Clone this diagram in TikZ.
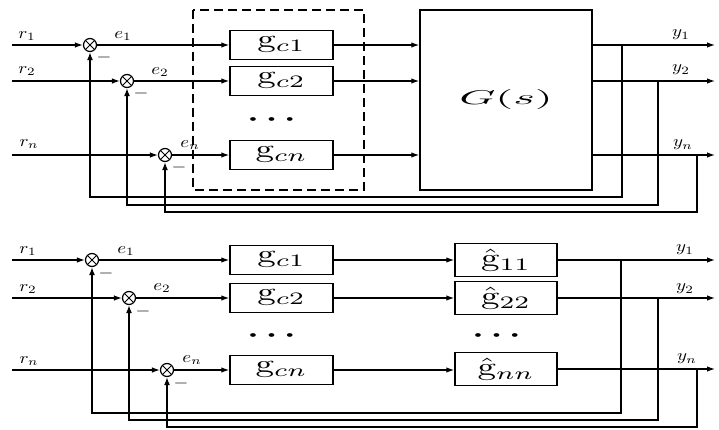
\documentclass[tikz,border=0pt]{standalone}
\usepackage{graphicx}
\usepackage{amsmath}
\usetikzlibrary{arrows.meta}
\newcommand\gbig[1]{\scalebox{3.7}[2.5]{$\mathrm{g}_{#1}$}}
\newcommand\ghat[1]{\scalebox{3.7}[2.5]{$\hat{\mathrm{g}}_{#1}$}}
\newcommand\lab[1]{\scalebox{1.9}[1.6]{$#1$}}
\newcommand\threedots{\scalebox{3.6}[2.4]{$\boldsymbol{\cdots}$}}
\begin{document}
\begin{tikzpicture}[x=1pt,y=-1pt,
 sig/.style={line width=1.2pt,-{Latex[length=8pt,width=5.5pt]}},
 fbarr/.style={line width=2.1pt,-{Latex[length=8pt,width=6pt]}},
 blk/.style={draw,line width=1.5pt,minimum width=103pt,minimum height=29pt,inner sep=0pt},
 hblk/.style={draw,line width=1.5pt,minimum width=102pt,minimum height=33pt,inner sep=0pt},
 sumj/.style={circle,draw,line width=1.2pt,minimum size=13pt,inner sep=0pt,
   path picture={\draw[line width=0.8pt] (path picture bounding box.north west)--(path picture bounding box.south east)
   (path picture bounding box.north east)--(path picture bounding box.south west);}},
 lbl/.style={inner sep=0pt},
 minus/.style={inner sep=0pt},
 dotsn/.style={inner sep=0pt}]
\useasboundingbox (0,0) rectangle (719,430);
% ================= TOP =================
\coordinate (ra1) at (12,45);
\coordinate (ra2) at (12,81);
\coordinate (ra3) at (12,155);
\node[sumj] (sa1) at (90,45) {};
\node[sumj] (sa2) at (127,81) {};
\node[sumj] (sa3) at (165,155) {};
\node[blk] (ga1) at (281.5,45) {\gbig{c1}};
\node[blk] (ga2) at (281.5,81) {\gbig{c2}};
\node[blk] (ga3) at (281.5,155) {\gbig{cn}};
\node[dotsn] (da) at (275,120) {\threedots};
\draw[line width=2pt,dash pattern=on 9pt off 5pt] (193,10) rectangle (364,190);
\node[draw,line width=1.5pt,minimum width=172pt,minimum height=180pt,inner sep=0pt] (G) at (506,100)
  {\scalebox{4.6}[2.0]{$G(s)$}};
\coordinate (ya1) at (715,45);
\coordinate (ya2) at (715,81);
\coordinate (ya3) at (715,155);
\coordinate (ta1) at (622,45);
\coordinate (ta2) at (658,81);
\coordinate (ta3) at (697,155);
\draw[sig] (ra1) -- (sa1);
\draw[sig] (ra2) -- (sa2);
\draw[sig] (ra3) -- (sa3);
\draw[sig] (sa1) -- (ga1);
\draw[sig] (sa2) -- (ga2);
\draw[sig] (sa3) -- (ga3);
\draw[sig] (ga1) -- (ga1 -| G.west);
\draw[sig] (ga2) -- (ga2 -| G.west);
\draw[sig] (ga3) -- (ga3 -| G.west);
\draw[sig] (ga1 -| G.east) -- (ya1);
\draw[sig] (ga2 -| G.east) -- (ya2);
\draw[sig] (ga3 -| G.east) -- (ya3);
\draw[fbarr] (ta1) -- (622,197) -| (sa1.south);
\draw[fbarr] (ta2) -- (658,205) -| (sa2.south);
\draw[fbarr] (ta3) -- (697,212) -| (sa3.south);
\node[lbl] (lra1) at (27,36) {\lab{r_1}};
\node[lbl] (lra2) at (27,71) {\lab{r_2}};
\node[lbl] (lra3) at (29,144) {\lab{r_n}};
\node[lbl] (lea1) at (123,36) {\lab{e_1}};
\node[lbl] (lea2) at (160,72) {\lab{e_2}};
\node[lbl] (lea3) at (190,145) {\lab{e_n}};
\node[lbl] (lya1) at (681,35) {\lab{y_1}};
\node[lbl] (lya2) at (681,70) {\lab{y_2}};
\node[lbl] (lya3) at (683,145) {\lab{y_n}};
\node[minus] (ma1) at (104,58) {\lab{-}};
\node[minus] (ma2) at (141,94) {\lab{-}};
\node[minus] (ma3) at (179,168) {\lab{-}};
% ================= BOTTOM =================
\coordinate (rb1) at (12,260);
\coordinate (rb2) at (12,298);
\coordinate (rb3) at (12,370);
\node[sumj] (sb1) at (92,260) {};
\node[sumj] (sb2) at (129,298) {};
\node[sumj] (sb3) at (167,370) {};
\node[blk] (gb1) at (281.5,260) {\gbig{c1}};
\node[blk] (gb2) at (281.5,298) {\gbig{c2}};
\node[blk] (gb3) at (281.5,370) {\gbig{cn}};
\node[dotsn] (db) at (275,336) {\threedots};
\node[hblk] (hb1) at (506,260) {\ghat{11}};
\node[hblk] (hb2) at (506,298) {\ghat{22}};
\node[hblk] (hb3) at (506,369) {\ghat{nn}};
\node[dotsn] (dh) at (500,336) {\threedots};
\coordinate (yb1) at (715,260);
\coordinate (yb2) at (715,298);
\coordinate (yb3) at (715,369);
\coordinate (tb1) at (621,260);
\coordinate (tb2) at (658,298);
\coordinate (tb3) at (697,369);
\draw[sig] (rb1) -- (sb1);
\draw[sig] (rb2) -- (sb2);
\draw[sig] (rb3) -- (sb3);
\draw[sig] (sb1) -- (gb1);
\draw[sig] (sb2) -- (gb2);
\draw[sig] (sb3) -- (gb3);
\draw[sig] (gb1) -- (gb1 -| hb1.west);
\draw[sig] (gb2) -- (gb2 -| hb2.west);
\draw[sig] (gb3) -- (gb3 -| hb3.west);
\draw[sig] (hb1.east) -- (yb1);
\draw[sig] (hb2.east) -- (yb2);
\draw[sig] (hb3.east) -- (yb3);
\draw[fbarr] (tb1) -- (621,413) -| (sb1.south);
\draw[fbarr] (tb2) -- (658,420) -| (sb2.south);
\draw[fbarr] (tb3) -- (697,427) -| (sb3.south);
\node[lbl] (lrb1) at (28,251) {\lab{r_1}};
\node[lbl] (lrb2) at (28,289) {\lab{r_2}};
\node[lbl] (lrb3) at (29,361) {\lab{r_n}};
\node[lbl] (leb1) at (126,251) {\lab{e_1}};
\node[lbl] (leb2) at (162,288) {\lab{e_2}};
\node[lbl] (leb3) at (192,360) {\lab{e_n}};
\node[lbl] (lyb1) at (685,250) {\lab{y_1}};
\node[lbl] (lyb2) at (685,289) {\lab{y_2}};
\node[lbl] (lyb3) at (687,359) {\lab{y_n}};
\node[minus] (mb1) at (106,273) {\lab{-}};
\node[minus] (mb2) at (143,311) {\lab{-}};
\node[minus] (mb3) at (181,383) {\lab{-}};
\end{tikzpicture}
\end{document}
